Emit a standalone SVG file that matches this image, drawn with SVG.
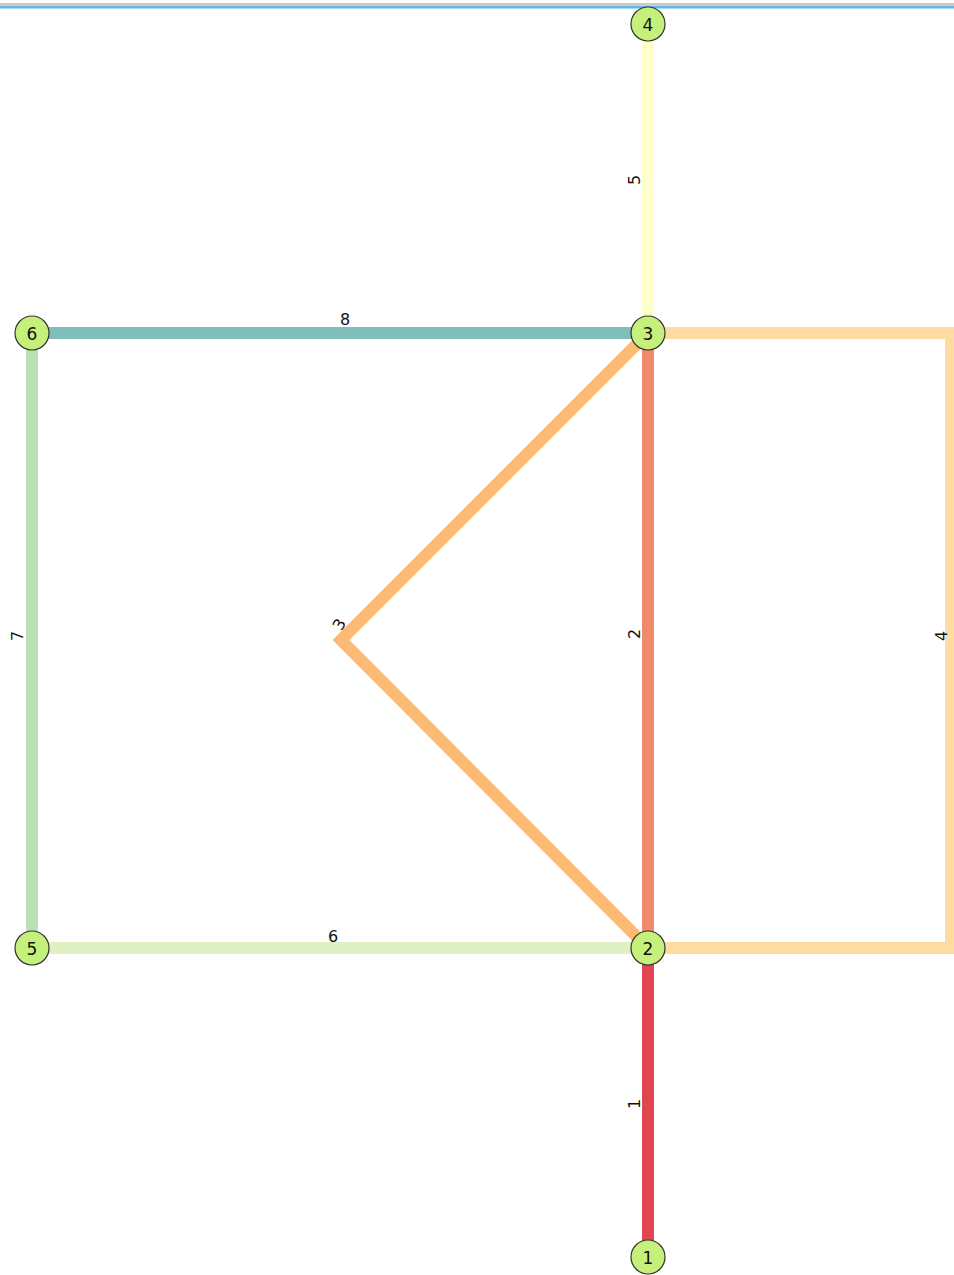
<svg xmlns="http://www.w3.org/2000/svg" width="954" height="1275" viewBox="0 0 954 1275">
<style>
.e{fill:none;stroke-width:12;stroke-linejoin:miter;stroke-linecap:butt}
.n circle{fill:#c6f07c;stroke:#333;stroke-width:1.2}
text{font-family:"DejaVu Sans","Liberation Sans",sans-serif;font-size:16px;fill:#111}
.n text{text-anchor:middle;dominant-baseline:central;font-size:17px}
</style>
<rect width="954" height="1275" fill="#fff"/>
<line x1="0" y1="4" x2="954" y2="4" stroke="#c8c8c8" stroke-width="2"/>
<line x1="0" y1="7" x2="954" y2="7" stroke="#62b4e6" stroke-width="3"/>
<g id="connectors">
<path class="e" d="M648,948 V1257" stroke="#e04550"/>
<path class="e" d="M648,333 V948" stroke="#f08a6a"/>
<path class="e" d="M648,333 L341,640 L648,948" stroke="#fdba75"/>
<path class="e" d="M648,333 H951 V948 H648" stroke="#fedba0"/>
<path class="e" d="M648,24 V333" stroke="#ffffcc"/>
<path class="e" d="M32,948 H648" stroke="#dff1c2"/>
<path class="e" d="M32,333 V948" stroke="#b9e2b5"/>
<path class="e" d="M32,333 H648" stroke="#80bebb"/>
<text transform="translate(640,1104) rotate(-90)" text-anchor="middle">1</text>
<text transform="translate(640,634) rotate(-90)" text-anchor="middle">2</text>
<text transform="translate(344,627) rotate(-60)" text-anchor="middle">3</text>
<text transform="translate(947,636) rotate(-90)" text-anchor="middle">4</text>
<text transform="translate(640,180) rotate(-90)" text-anchor="middle">5</text>
<text x="333" y="942" text-anchor="middle">6</text>
<text transform="translate(23,636) rotate(-90)" text-anchor="middle">7</text>
<text x="345" y="325" text-anchor="middle">8</text>
</g>
<g id="node1" class="n"><circle cx="648" cy="1257" r="17"/><text x="648" y="1258">1</text></g>
<g id="node2" class="n"><circle cx="648" cy="948" r="17"/><text x="648" y="949">2</text></g>
<g id="node3" class="n"><circle cx="648" cy="333" r="17"/><text x="648" y="334">3</text></g>
<g id="node4" class="n"><circle cx="648" cy="24" r="17"/><text x="648" y="25">4</text></g>
<g id="node5" class="n"><circle cx="32" cy="948" r="17"/><text x="32" y="949">5</text></g>
<g id="node6" class="n"><circle cx="32" cy="333" r="17"/><text x="32" y="334">6</text></g>
</svg>
